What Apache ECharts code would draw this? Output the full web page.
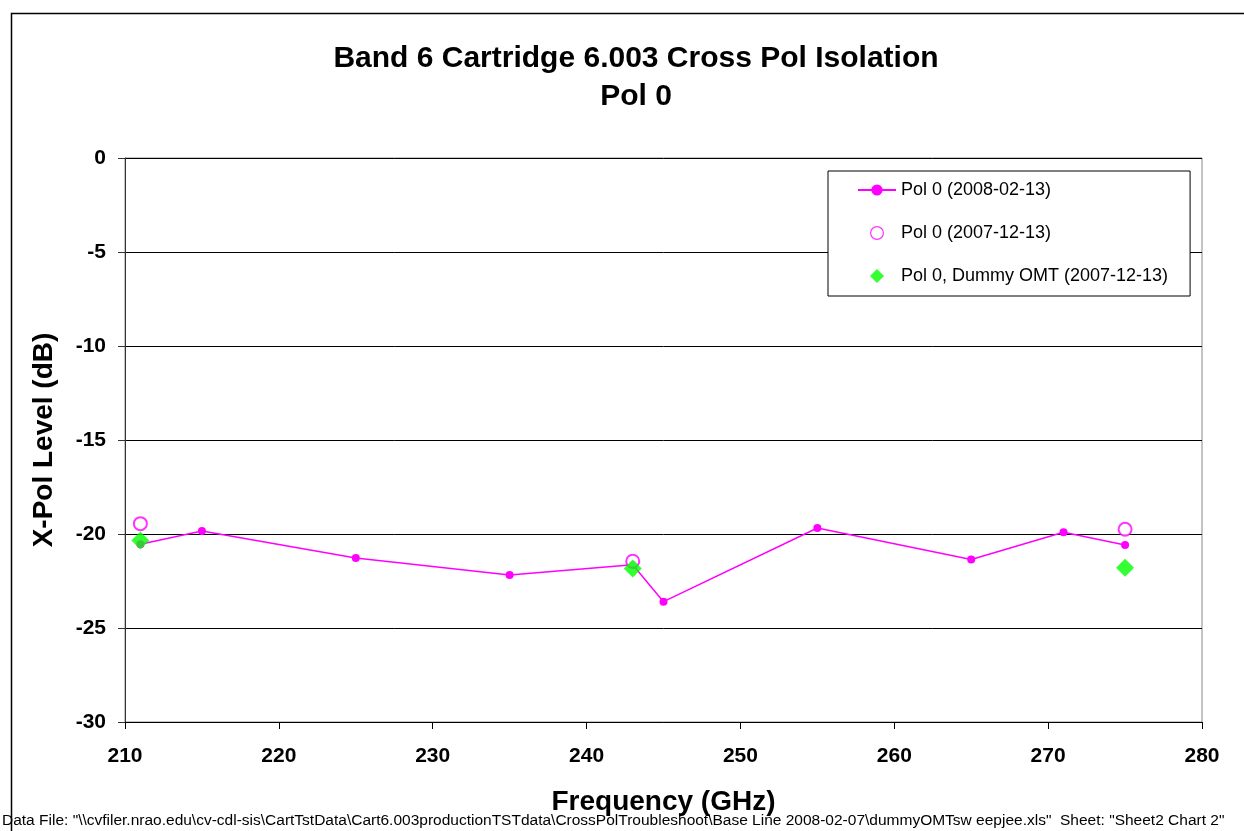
<!DOCTYPE html>
<html>
<head>
<meta charset="utf-8">
<script src="https://cdn.jsdelivr.net/npm/echarts@6/dist/echarts.min.js"></script>
<style>
html,body{margin:0;padding:0;background:#fff;}
#chart{width:1244px;height:831px;}
</style>
</head>
<body>
<div id="chart"></div>
<script>
// Data
var freqPol0 = [211, 215, 225, 235, 243, 245, 255, 265, 271, 275];
var xpolPol0 = [-20.55, -19.84, -21.28, -22.18, -21.64, -23.6, -19.68, -21.36, -19.91, -20.59];
var freqOld = [211, 243, 275];
var xpolOld = [-19.45, -21.45, -19.75];
var freqDummy = [211, 243, 275];
var xpolDummy = [-20.34, -21.84, -21.79];
var seriesNames = ['Pol 0 (2008-02-13)', 'Pol 0 (2007-12-13)', 'Pol 0, Dummy OMT (2007-12-13)'];
var titleText = 'Band 6 Cartridge 6.003 Cross Pol Isolation\nPol 0';
var xTitle = 'Frequency (GHz)';
var yTitle = 'X-Pol Level (dB)';
var footerText = 'Data File: "\\\\cvfiler.nrao.edu\\cv-cdl-sis\\CartTstData\\Cart6.003productionTSTdata\\CrossPolTroubleshoot\\Base Line 2008-02-07\\dummyOMTsw eepjee.xls"  Sheet: "Sheet2 Chart 2"';

function pairs(xs, ys) { return xs.map(function (x, i) { return [x, ys[i]]; }); }

var chart = echarts.init(document.getElementById('chart'), null, {renderer: 'canvas'});
var font = '"Liberation Sans", Arial, sans-serif';
chart.setOption({
  backgroundColor: '#fff',
  animation: false,
  textStyle: {fontFamily: font},
  title: {
    text: titleText,
    left: 631, top: 35, textAlign: 'center',
    textStyle: {fontFamily: font, fontSize: 30, fontWeight: 'bold', color: '#000', lineHeight: 38}
  },
  grid: {left: 125, right: 42, top: 158, bottom: 109, show: true, borderColor: '#888', borderWidth: 1, backgroundColor: 'transparent'},
  legend: {
    orient: 'vertical',
    left: 828, top: 171,
    padding: [10, 22, 11, 29],
    itemWidth: 38, itemHeight: 14, itemGap: 25,
    symbolKeepAspect: true,
    backgroundColor: '#fff', borderColor: '#000', borderWidth: 1,
    textStyle: {fontFamily: font, fontSize: 18, color: '#000'},
    data: [
      {name: seriesNames[0]},
      {name: seriesNames[1], icon: 'path://M10,3A7,7 0 1,1 9.99,3Z M10,4.2A5.8,5.8 0 1,0 10.01,4.2Z',
       itemStyle: {color: '#FF00FF', borderWidth: 0}},
      {name: seriesNames[2], icon: 'path://M10,1.5L18.5,10L10,18.5L1.5,10Z'}
    ]
  },
  xAxis: {
    type: 'value', min: 210, max: 280, interval: 10,
    name: xTitle, nameLocation: 'middle', nameGap: 66,
    nameTextStyle: {fontFamily: font, fontSize: 28, fontWeight: 'bold', color: '#000'},
    axisLine: {show: true, onZero: false, lineStyle: {color: '#000', width: 1}},
    axisTick: {show: true, inside: false, length: 7, lineStyle: {color: '#000'}},
    axisLabel: {fontFamily: font, fontSize: 21, fontWeight: 'bold', color: '#000', margin: 24},
    splitLine: {show: false}
  },
  yAxis: {
    type: 'value', min: -30, max: 0, interval: 5,
    name: yTitle, nameLocation: 'middle', nameGap: 67, nameRotate: 90,
    nameTextStyle: {fontFamily: font, fontSize: 28, fontWeight: 'bold', color: '#000'},
    axisLine: {show: true, onZero: false, lineStyle: {color: '#333', width: 1}},
    axisTick: {show: true, inside: false, length: 7, lineStyle: {color: '#333'}},
    axisLabel: {fontFamily: font, fontSize: 21, fontWeight: 'bold', color: '#000', margin: 19},
    splitLine: {show: true, lineStyle: {color: '#000', width: 1}}
  },
  series: [
    {
      name: seriesNames[0], type: 'line', data: pairs(freqPol0, xpolPol0),
      symbol: 'circle', symbolSize: 8,
      lineStyle: {color: '#FF00FF', width: 1.5},
      itemStyle: {color: '#FF00FF', borderWidth: 0},
      z: 2
    },
    {
      name: seriesNames[1], type: 'scatter', data: pairs(freqOld, xpolOld),
      symbol: 'emptyCircle', symbolSize: 13,
      itemStyle: {color: '#FF00FF', borderColor: '#FF00FF', borderWidth: 1.3},
      z: 3
    },
    {
      name: seriesNames[2], type: 'scatter', data: pairs(freqDummy, xpolDummy),
      symbol: 'diamond', symbolSize: 18,
      itemStyle: {color: '#00FF00', borderWidth: 0},
      z: 4
    }
  ],
  graphic: [
    {type: 'rect', left: 9, top: 11, shape: {x: 0, y: 0, width: 1300, height: 900},
     style: {fill: 'none', stroke: '#000', lineWidth: 1.5}, z: -10, silent: true},
    {type: 'text', left: 2, top: 813,
     style: {text: footerText, font: '15.5px "Liberation Sans", Arial, sans-serif', fill: '#000'}}
  ]
});
</script>
</body>
</html>
